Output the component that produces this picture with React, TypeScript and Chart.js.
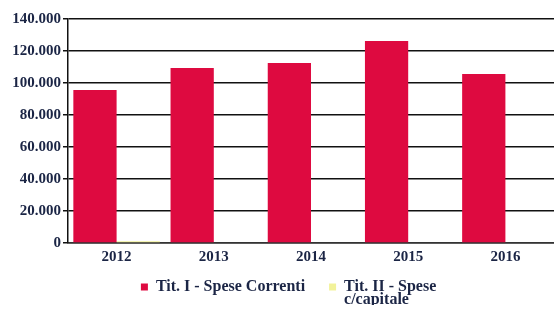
import React, { useEffect, useRef } from "react";
import { Chart, registerables } from "chart.js";

Chart.register(...registerables);

const categories = ["2012", "2013", "2014", "2015", "2016"];
const speseCorrenti = [95600, 109400, 112500, 126300, 105600];
const speseCapitale = [1100, 0, 0, 0, 0];
const seriesLabels = ["Tit. I - Spese Correnti", "Tit. II - Spese c/capitale"];
const legendTexts: (string | string[])[] = ["Tit. I - Spese Correnti    ", ["Tit. II - Spese", "c/capitale"]];

const RED = "#de0a40";
const YELLOW = "#f2f29a";
const TEXT = "#1b2545";
const FONT = "'Liberation Serif', 'DejaVu Serif', serif";

const legendShift = {
  id: "legendShift",
  afterLayout(chart: any) {
    const lg = chart.legend;
    if (lg) {
      lg.left += 46;
      lg.right += 46;
    }
  },
};

export default function App() {
  const ref = useRef<HTMLCanvasElement | null>(null);
  useEffect(() => {
    document.body.style.margin = "0";
    const canvas = ref.current!;
    const chart = new Chart(canvas, {
      type: "bar",
      data: {
        labels: categories,
        datasets: [
          { label: seriesLabels[0], data: speseCorrenti, backgroundColor: RED, borderWidth: 0 },
          { label: seriesLabels[1], data: speseCapitale, backgroundColor: YELLOW, borderWidth: 0 },
        ],
      },
      plugins: [legendShift],
      options: {
        animation: false,
        responsive: false,
        devicePixelRatio: 1,
        layout: { padding: { top: 19, right: 0, left: 0, bottom: 8 } },
        datasets: { bar: { categoryPercentage: 0.89, barPercentage: 1.0 } },
        scales: {
          x: {
            grid: { display: false, drawTicks: false },
            border: { display: true, color: "#333", width: 1.5 },
            ticks: {
              color: TEXT,
              padding: 5,
              font: { family: FONT, size: 15, weight: "bold" },
            },
          },
          y: {
            min: 0,
            max: 140000,
            afterFit: (s: any) => { s.width = 68; },
            grid: { color: "#111", lineWidth: 1.5, tickLength: 5, tickColor: "#111" },
            border: { display: true, color: "#111", width: 1.5 },
            ticks: {
              stepSize: 20000,
              color: TEXT,
              padding: 2,
              font: { family: FONT, size: 15, weight: "bold" },
              callback: (v: any) => Number(v).toLocaleString("it-IT").replace(/\u00a0/g, ""),
            },
          },
        },
        plugins: {
          tooltip: { enabled: false },
          legend: {
            position: "bottom",
            labels: {
              boxWidth: 7,
              boxHeight: 7,
              padding: 8,
              color: TEXT,
              font: { family: FONT, size: 16, weight: "bold", lineHeight: 0.78 },
              generateLabels: (c: any) =>
                c.data.datasets.map((ds: any, i: number) => ({
                  text: legendTexts[i],
                  fillStyle: ds.backgroundColor,
                  strokeStyle: ds.backgroundColor,
                  lineWidth: 0,
                  hidden: false,
                  datasetIndex: i,
                  fontColor: TEXT,
                })),
            },
          },
        },
      },
    });
    return () => chart.destroy();
  }, []);
  return (
    <div style={{ position: "fixed", left: 0, top: 0, width: 554, height: 313, background: "#fff" }}>
      <canvas ref={ref} width={554} height={313} style={{ width: 554, height: 313 }} />
    </div>
  );
}
